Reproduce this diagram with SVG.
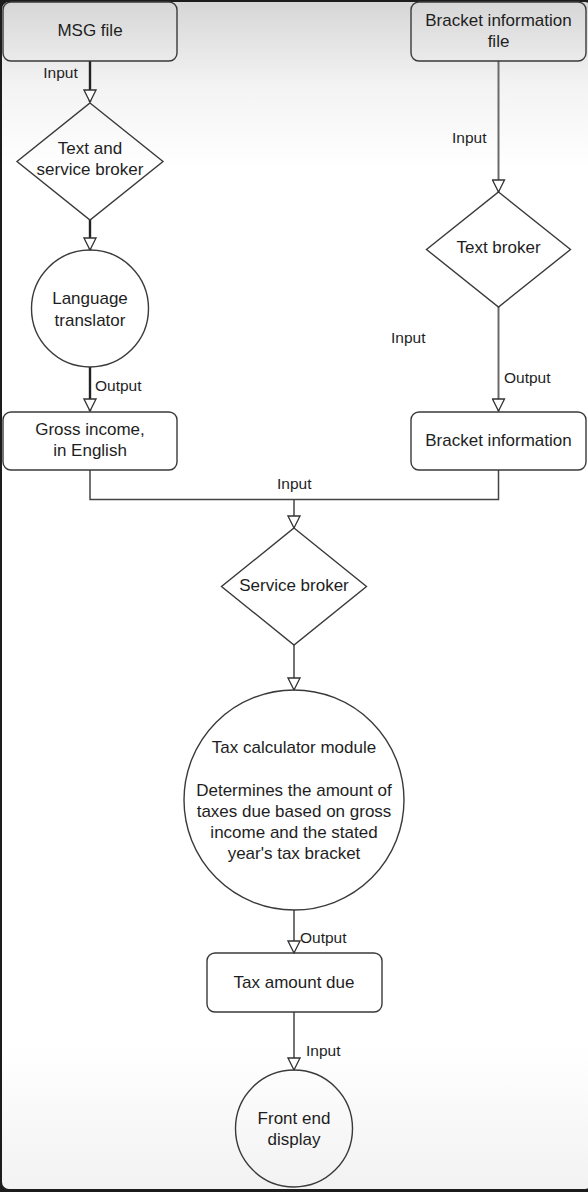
<svg xmlns="http://www.w3.org/2000/svg" width="588" height="1192" viewBox="0 0 588 1192">
  <defs>
    <linearGradient id="bg" x1="0" y1="0" x2="0" y2="1">
      <stop offset="0" stop-color="#d6d6d6"/>
      <stop offset="0.07" stop-color="#f3f3f3"/>
      <stop offset="0.14" stop-color="#ffffff"/>
      <stop offset="0.88" stop-color="#ffffff"/>
      <stop offset="1" stop-color="#f2f2f2"/>
    </linearGradient>
    <marker id="arr" viewBox="0 0 14 14" refX="13" refY="7" markerWidth="14" markerHeight="14" markerUnits="userSpaceOnUse" orient="auto">
      <path d="M1,1 L13,7 L1,13 Z" fill="#ffffff" stroke="#333333" stroke-width="1.3"/>
    </marker>
  </defs>
  <style>
    .shape { fill: none; stroke: #3a3a3a; stroke-width: 1.4; }
    .node { font-family: "Liberation Sans", Arial, sans-serif; font-size: 17px; fill: #1e1e1e; text-anchor: middle; }
    .lbl { font-family: "Liberation Sans", Arial, sans-serif; font-size: 15.5px; fill: #1e1e1e; }
    .conn { fill: none; stroke: #444444; stroke-width: 1.5; }
    .thick { stroke: #222222; stroke-width: 2.4; }
    .gray { stroke: #6a6a6a; stroke-width: 2; }
  </style>
  <rect x="0" y="0" width="588" height="1192" fill="#1c1c1c"/>
  <rect x="2" y="2" width="590" height="1187" rx="7" fill="url(#bg)"/>

  <g id="connectors">
    <line class="conn thick" x1="90" y1="61" x2="90" y2="102" marker-end="url(#arr)"/>
    <line class="conn thick" x1="90" y1="220" x2="90" y2="250" marker-end="url(#arr)"/>
    <line class="conn thick" x1="90" y1="367" x2="90" y2="411" marker-end="url(#arr)"/>
    <line class="conn gray" x1="498.5" y1="61" x2="498.5" y2="192" marker-end="url(#arr)"/>
    <line class="conn gray" x1="498.5" y1="307" x2="498.5" y2="411" marker-end="url(#arr)"/>
    <polyline class="conn" points="90,470 90,499.5 498.5,499.5 498.5,470"/>
    <line class="conn" x1="294" y1="499.5" x2="294" y2="528" marker-end="url(#arr)"/>
    <line class="conn" x1="294" y1="645" x2="294" y2="690" marker-end="url(#arr)"/>
    <line class="conn" x1="294" y1="910" x2="294" y2="953" marker-end="url(#arr)"/>
    <line class="conn" x1="294" y1="1012" x2="294" y2="1070" marker-end="url(#arr)"/>
    <text class="lbl" x="60.5" y="78" text-anchor="middle">Input</text>
    <text class="lbl" x="95" y="391">Output</text>
    <text class="lbl" x="452" y="143">Input</text>
    <text class="lbl" x="391" y="343">Input</text>
    <text class="lbl" x="504" y="383">Output</text>
    <text class="lbl" x="277" y="489">Input</text>
    <text class="lbl" x="300" y="943">Output</text>
    <text class="lbl" x="306" y="1056">Input</text>
  </g>

  <g id="msg-file">
    <rect class="shape" x="3" y="2" width="174" height="59" rx="8"/>
    <text class="node" x="90" y="36">MSG file</text>
  </g>
  <g id="text-service-broker">
    <polygon class="shape" points="90,103 163,161.5 90,220 17,161.5"/>
    <text class="node" x="90" y="154">Text and</text>
    <text class="node" x="90" y="175">service broker</text>
  </g>
  <g id="language-translator">
    <circle class="shape" cx="90" cy="308.5" r="58.5"/>
    <text class="node" x="90" y="304">Language</text>
    <text class="node" x="90" y="326">translator</text>
  </g>
  <g id="gross-income">
    <rect class="shape" x="3" y="412" width="174" height="58" rx="8"/>
    <text class="node" x="90" y="435">Gross income,</text>
    <text class="node" x="90" y="456">in English</text>
  </g>
  <g id="bracket-file">
    <rect class="shape" x="411" y="2" width="175" height="59" rx="8"/>
    <text class="node" x="498.5" y="26">Bracket information</text>
    <text class="node" x="498.5" y="47">file</text>
  </g>
  <g id="text-broker">
    <polygon class="shape" points="498.5,192 570.5,249.5 498.5,307 426.5,249.5"/>
    <text class="node" x="498.5" y="253">Text broker</text>
  </g>
  <g id="bracket-information">
    <rect class="shape" x="411" y="412" width="175" height="58" rx="8"/>
    <text class="node" x="498.5" y="446">Bracket information</text>
  </g>
  <g id="service-broker">
    <polygon class="shape" points="294,528 366.5,586.5 294,645 221.5,586.5"/>
    <text class="node" x="294" y="591">Service broker</text>
  </g>
  <g id="tax-calculator">
    <circle class="shape" cx="294" cy="800" r="110"/>
    <text class="node" x="294" y="753">Tax calculator module</text>
    <text class="node" x="294" y="796">Determines the amount of</text>
    <text class="node" x="294" y="817">taxes due based on gross</text>
    <text class="node" x="294" y="838">income and the stated</text>
    <text class="node" x="294" y="859">year's tax bracket</text>
  </g>
  <g id="tax-amount-due">
    <rect class="shape" x="207" y="953" width="175" height="59" rx="8"/>
    <text class="node" x="294" y="988">Tax amount due</text>
  </g>
  <g id="front-end-display">
    <circle class="shape" cx="294" cy="1128.5" r="58.5"/>
    <text class="node" x="294" y="1124">Front end</text>
    <text class="node" x="294" y="1145">display</text>
  </g>
</svg>
